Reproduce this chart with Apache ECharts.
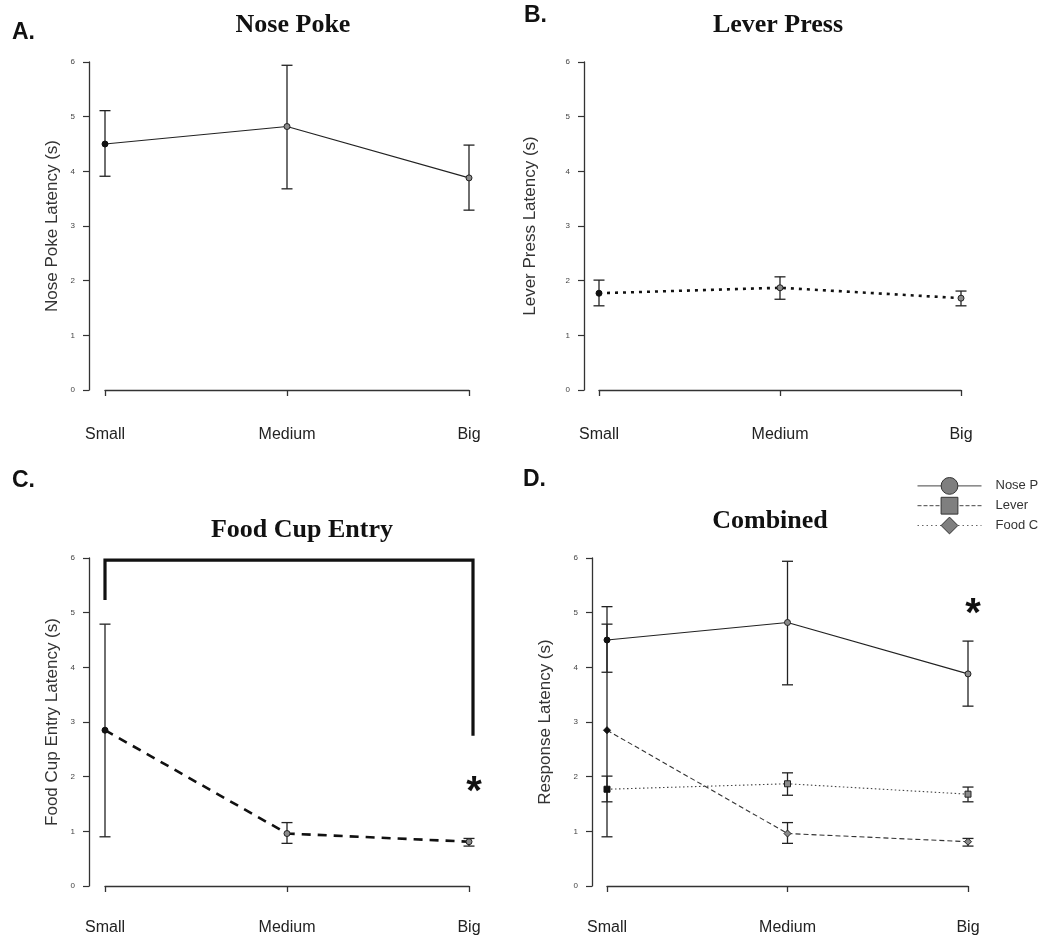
<!DOCTYPE html>
<html><head><meta charset="utf-8">
<script src="https://cdn.jsdelivr.net/npm/echarts@6/dist/echarts.min.js"></script>
<style>html,body{margin:0;padding:0;background:#fff}#c{width:1047px;height:939px}</style>
</head><body><div id="c"></div>
<script>
// ---------- data ----------
const categories = ['Small', 'Medium', 'Big'];
const nosePokeMean = [4.50, 4.82, 3.88];
const nosePokeLow  = [3.91, 3.68, 3.29];
const nosePokeHigh = [5.11, 5.94, 4.48];
const leverMean = [1.77, 1.87, 1.68];
const leverLow  = [1.54, 1.66, 1.54];
const leverHigh = [2.01, 2.07, 1.81];
const foodMean = [2.85, 0.96, 0.81];
const foodLow  = [0.90, 0.78, 0.73];
const foodHigh = [4.79, 1.16, 0.87];
const bracketC = [5.96, 5.23, 2.75];     // top, left end, right end (s)
const sigStarC = 1.85;                   // asterisk height in panel C (at Big)
const sigStarD = 5.10;                   // asterisk height in panel D (at Big)
const yMin = 0, yMax = 6, yStep = 1;

// ---------- helpers ----------
const SANS = 'Liberation Sans, Arial, sans-serif';
const SERIF = 'Liberation Serif, Times New Roman, serif';
const AX = '#333';

const grids = [
  {left: 105, top: 62, width: 364, height: 328},
  {left: 599, top: 62, width: 362, height: 328},
  {left: 105, top: 558, width: 364, height: 328},
  {left: 607, top: 558, width: 361, height: 328}
];
const yOffsets = [16, 15, 16, 15];
const xOffsets = [13, 13, 14, 14];
const xLabelMargins = [24, 24, 20, 20];
const yNames = ['Nose Poke Latency (s)', 'Lever Press Latency (s)', 'Food Cup Entry Latency (s)', 'Response Latency (s)'];
const yNameGaps = [28, 45, 28, 38];

const xAxes = grids.map((g, i) => ({
  type: 'category', gridIndex: i, data: categories, boundaryGap: false,
  offset: xOffsets[i],
  axisLine: {lineStyle: {color: AX, width: 1.3}},
  axisTick: {length: 6, lineStyle: {color: AX, width: 1.3}},
  axisLabel: {fontSize: 16, color: '#222', margin: xLabelMargins[i], fontFamily: SANS},
  splitLine: {show: false}
}));
const yAxes = grids.map((g, i) => ({
  type: 'value', gridIndex: i, min: yMin, max: yMax, interval: yStep,
  offset: yOffsets[i],
  axisLine: {show: true, lineStyle: {color: AX, width: 1.3}},
  axisTick: {show: true, length: 6, lineStyle: {color: AX, width: 1.2}},
  axisLabel: {fontSize: 8, color: '#444', margin: 14, fontFamily: SANS},
  splitLine: {show: false},
  name: yNames[i], nameLocation: 'middle', nameGap: yNameGaps[i],
  nameTextStyle: {fontSize: 17, color: '#333', fontFamily: SANS}
}));

const filled = {color: '#111', borderColor: '#111', borderWidth: 1};
const hollow = {color: '#8a8a8a', borderColor: '#222', borderWidth: 1};
function pts(arr) { return arr.map((v, i) => ({value: v, itemStyle: i === 0 ? filled : hollow})); }

function errRender(params, api) {
  const x = api.value(0);
  const lo = api.coord([x, api.value(1)]);
  const hi = api.coord([x, api.value(2)]);
  const w = 5.5;
  const st = {stroke: '#222', lineWidth: 1.3};
  return {type: 'group', children: [
    {type: 'line', shape: {x1: lo[0], y1: lo[1], x2: hi[0], y2: hi[1]}, style: st},
    {type: 'line', shape: {x1: lo[0] - w, y1: lo[1], x2: lo[0] + w, y2: lo[1]}, style: st},
    {type: 'line', shape: {x1: hi[0] - w, y1: hi[1], x2: hi[0] + w, y2: hi[1]}, style: st}
  ]};
}
function errSeries(idx, lo, hi) {
  return {type: 'custom', xAxisIndex: idx, yAxisIndex: idx, renderItem: errRender, z: 3,
    data: categories.map((c, i) => [i, lo[i], hi[i]]), silent: true};
}
function lineSeries(idx, name, vals, lineStyle, symbol, size) {
  return {type: 'line', name: name, xAxisIndex: idx, yAxisIndex: idx, data: pts(vals),
    symbol: symbol, symbolSize: size, showSymbol: true, lineStyle: lineStyle, z: 4,
    itemStyle: hollow, emphasis: {disabled: true}};
}
function starSeries(idx, val) {
  return {type: 'custom', xAxisIndex: idx, yAxisIndex: idx, z: 5, silent: true,
    data: [[categories.length - 1, val]],
    renderItem: (p, api) => {
      const c = api.coord([api.value(0), api.value(1)]);
      return {type: 'text', x: c[0] + 5, y: c[1] + 8,
        style: {text: '*', font: 'bold 40px ' + SANS, fill: '#111', textAlign: 'center', textVerticalAlign: 'middle'}};
    }};
}

const series = [
  // A
  lineSeries(0, 'A-np', nosePokeMean, {color: '#222', width: 1.2, type: 'solid'}, 'circle', 6),
  errSeries(0, nosePokeLow, nosePokeHigh),
  // B
  lineSeries(1, 'B-lp', leverMean, {color: '#111', width: 2.6, type: [3, 5]}, 'circle', 6),
  errSeries(1, leverLow, leverHigh),
  // C
  lineSeries(2, 'C-fc', foodMean, {color: '#111', width: 2.6, type: [9, 7]}, 'circle', 6),
  errSeries(2, foodLow, foodHigh),
  {type: 'custom', xAxisIndex: 2, yAxisIndex: 2, z: 5, silent: true,
    data: [[0, categories.length - 1, bracketC[0], bracketC[1], bracketC[2]]],
    renderItem: (p, api) => {
      const a = api.coord([api.value(0), api.value(3)]);
      const b = api.coord([api.value(0), api.value(2)]);
      const c = api.coord([api.value(1), api.value(2)]);
      const d = api.coord([api.value(1), api.value(4)]);
      return {type: 'polyline', shape: {points: [a, b, [c[0] + 4, c[1]], [d[0] + 4, d[1]]]},
        style: {stroke: '#111', lineWidth: 3.2, fill: null}};
    }},
  starSeries(2, sigStarC),
  // D
  lineSeries(3, 'Nose Poke', nosePokeMean, {color: '#222', width: 1.2, type: 'solid'}, 'circle', 6),
  errSeries(3, nosePokeLow, nosePokeHigh),
  lineSeries(3, 'Lever Press', leverMean, {color: '#444', width: 1.1, type: [1.5, 2.5]}, 'rect', 6),
  errSeries(3, leverLow, leverHigh),
  lineSeries(3, 'Food Cup Entry', foodMean, {color: '#333', width: 1.1, type: [5, 3]}, 'diamond', 7),
  errSeries(3, foodLow, foodHigh),
  starSeries(3, sigStarD)
];

const titleFont = 'bold 26px ' + SERIF;
const letterFont = 'bold 23px ' + SANS;
const graphics = [
  {type: 'text', x: 293, y: 25, style: {text: 'Nose Poke', font: titleFont, fill: '#111', textAlign: 'center', textVerticalAlign: 'middle'}},
  {type: 'text', x: 778, y: 25, style: {text: 'Lever Press', font: titleFont, fill: '#111', textAlign: 'center', textVerticalAlign: 'middle'}},
  {type: 'text', x: 302, y: 530, style: {text: 'Food Cup Entry', font: titleFont, fill: '#111', textAlign: 'center', textVerticalAlign: 'middle'}},
  {type: 'text', x: 770, y: 521.5, style: {text: 'Combined', font: titleFont, fill: '#111', textAlign: 'center', textVerticalAlign: 'middle'}},
  {type: 'text', x: 12, y: 33, style: {text: 'A.', font: letterFont, fill: '#111', textVerticalAlign: 'middle'}},
  {type: 'text', x: 524, y: 15.5, style: {text: 'B.', font: letterFont, fill: '#111', textVerticalAlign: 'middle'}},
  {type: 'text', x: 12, y: 481, style: {text: 'C.', font: letterFont, fill: '#111', textVerticalAlign: 'middle'}},
  {type: 'text', x: 523, y: 479.5, style: {text: 'D.', font: letterFont, fill: '#111', textVerticalAlign: 'middle'}}
];

const legendItem = {color: '#7f7f7f', borderColor: '#333', borderWidth: 1};
const option = {
  animation: false,
  backgroundColor: '#fff',
  grid: grids,
  xAxis: xAxes,
  yAxis: yAxes,
  graphic: graphics,
  legend: {
    orient: 'vertical', left: 917, top: 477, itemWidth: 64, itemHeight: 21, itemGap: 2,
    selectedMode: false, padding: 0,
    textStyle: {fontSize: 13, color: '#333', fontFamily: SANS, padding: [0, 0, 0, 9],
      width: 45, overflow: 'truncate', ellipsis: ''},
    data: [
      {name: 'Nose Poke', itemStyle: legendItem, lineStyle: {color: '#444', width: 1, type: 'solid'}},
      {name: 'Lever Press', itemStyle: legendItem, lineStyle: {color: '#444', width: 1, type: [4, 2]}},
      {name: 'Food Cup Entry', itemStyle: legendItem, lineStyle: {color: '#666', width: 1, type: [1.5, 3]}}
    ]
  },
  series: series
};
const chart = echarts.init(document.getElementById('c'), null, {renderer: 'canvas'});
chart.setOption(option);
</script></body></html>
